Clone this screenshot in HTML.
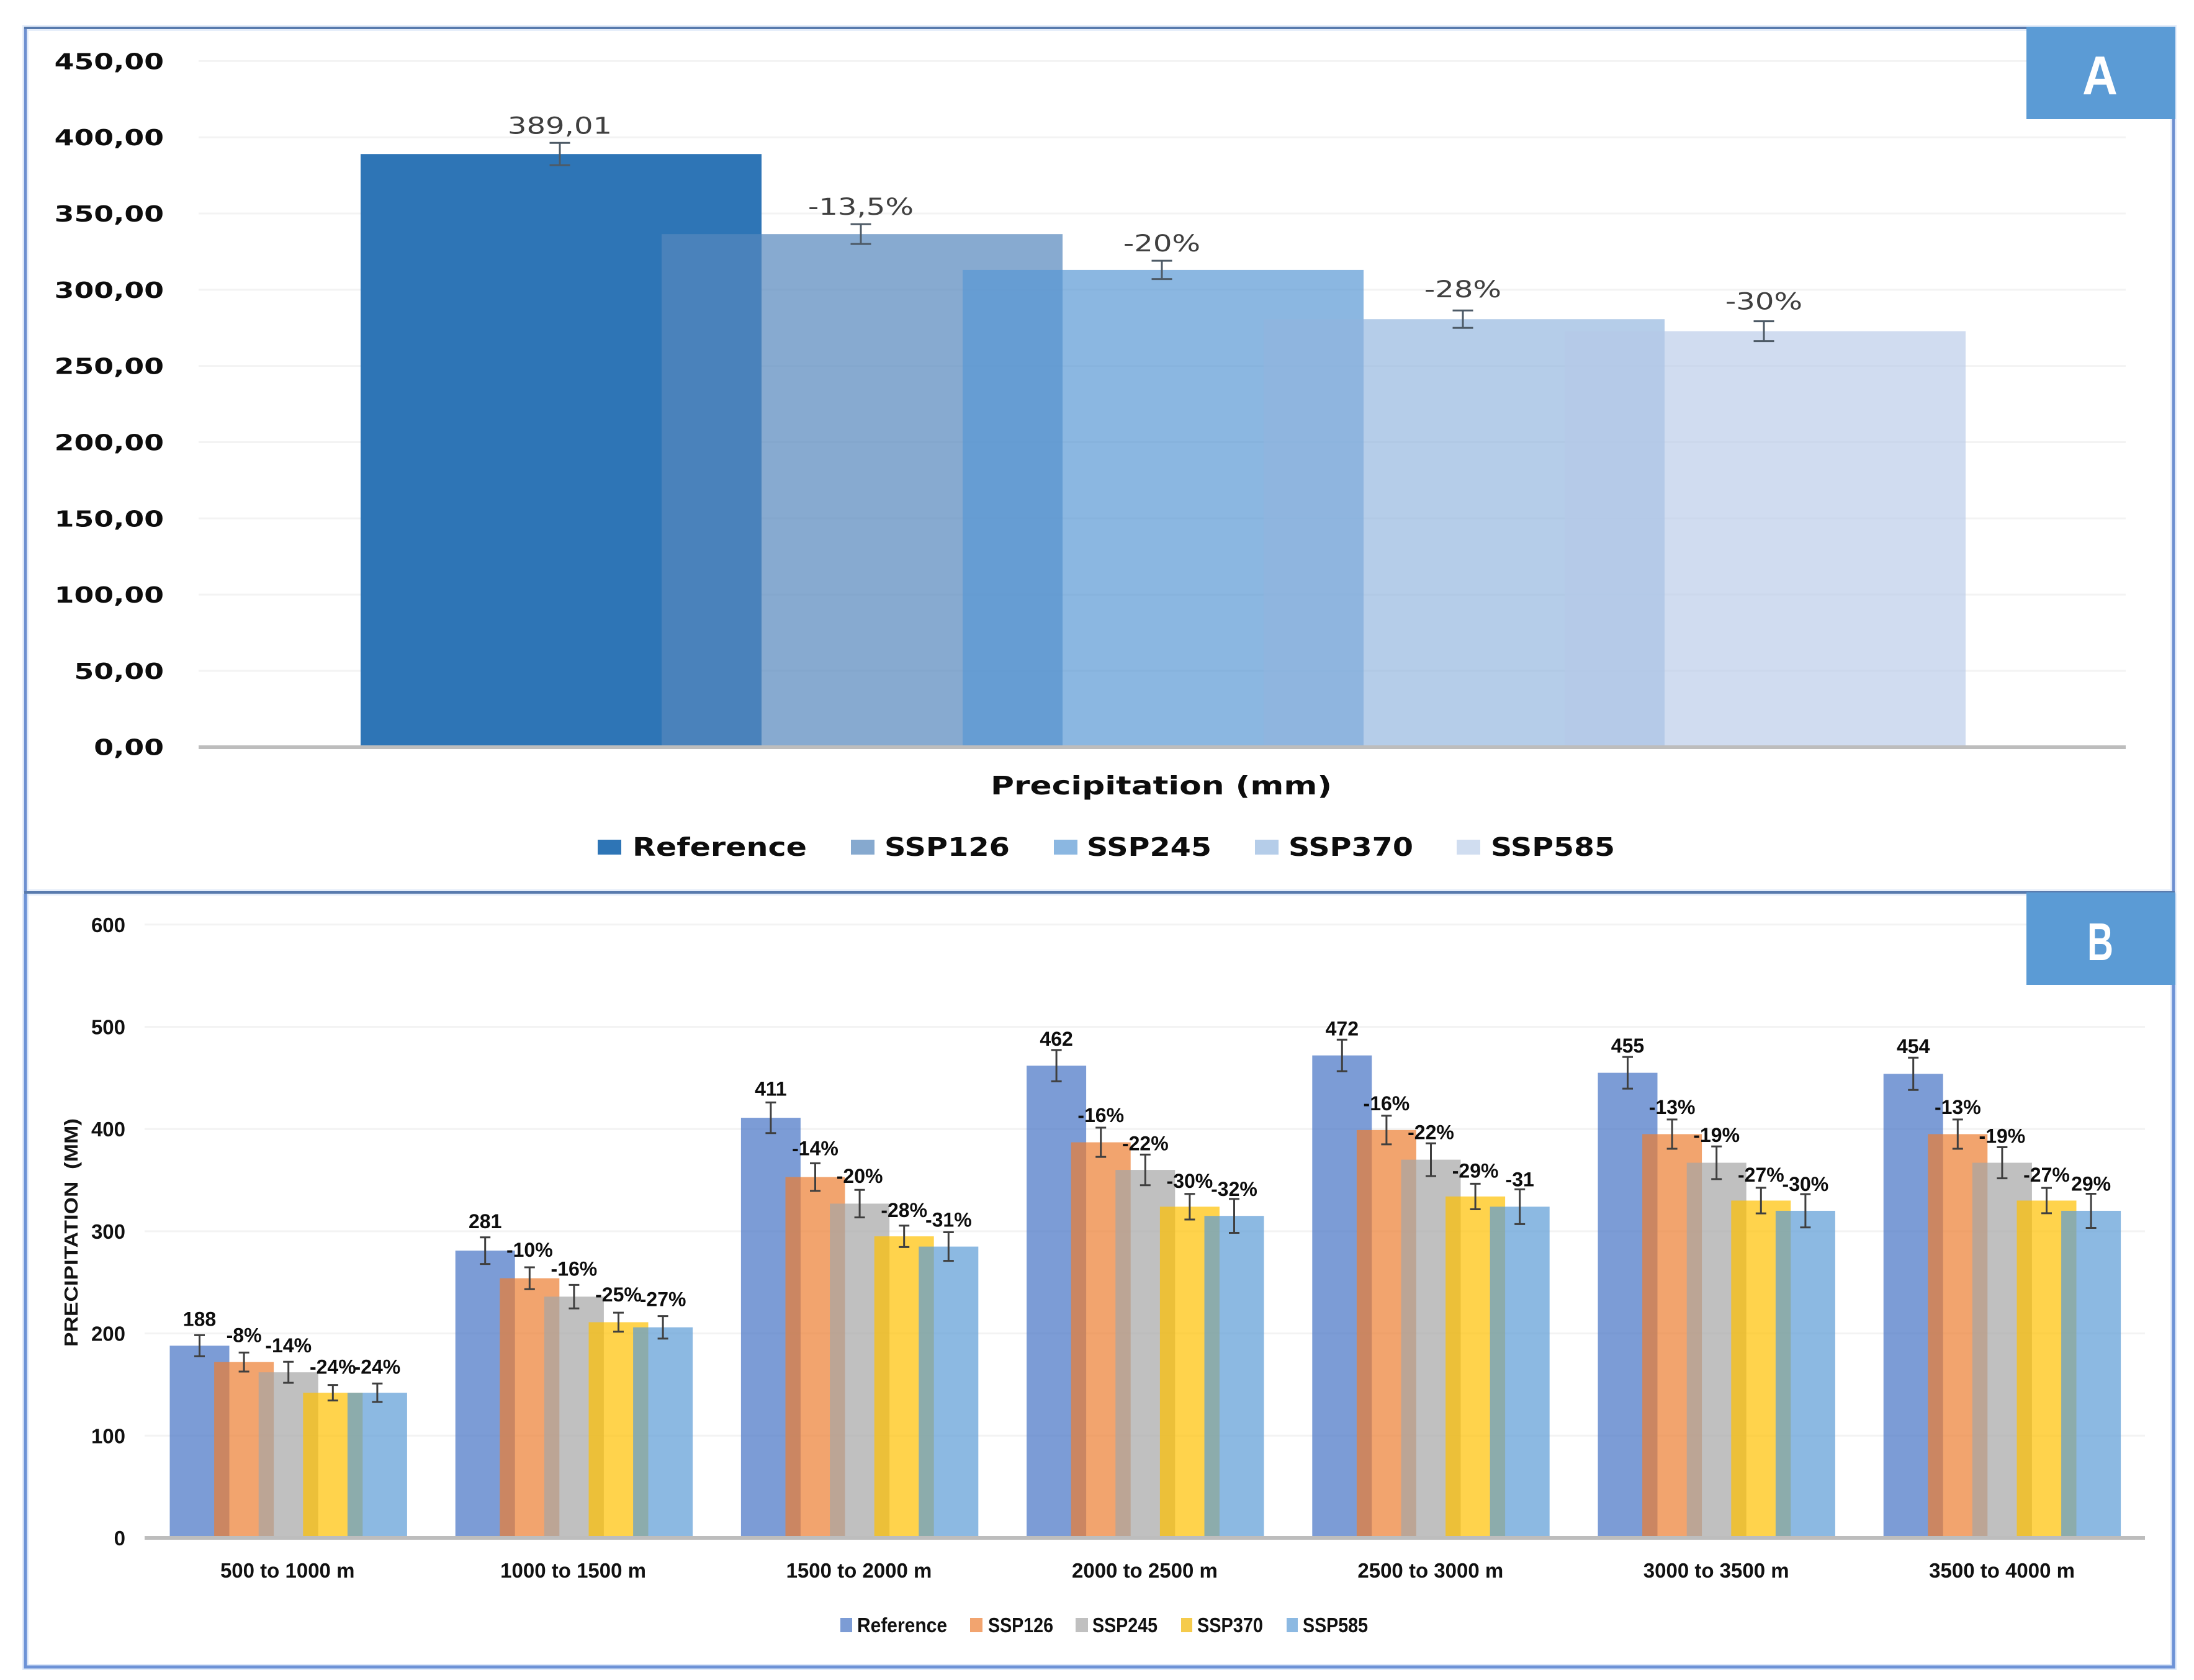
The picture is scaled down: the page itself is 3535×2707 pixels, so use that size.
<!DOCTYPE html>
<html lang="en">
<head>
<meta charset="utf-8">
<title>Precipitation under SSP scenarios</title>
<style>
html,body{margin:0;padding:0;background:#fff;}
svg{display:block;}
.pa{font-family:"DejaVu Sans","Liberation Sans",sans-serif;}
.pb{font-family:"Liberation Sans","DejaVu Sans",sans-serif;font-weight:700;}
</style>
</head>
<body>
<svg id="figure" xmlns="http://www.w3.org/2000/svg" width="3535" height="2707" viewBox="0 0 3535 2707">
  <rect x="0" y="0" width="3535" height="2707" fill="#ffffff"/>
  <g id="panelA">
    <rect x="41" y="45" width="3461" height="1393" fill="none" stroke="#e6eefa" stroke-width="10"/>
    <path d="M41 44 V1438 M3502 44 V1438" fill="none" stroke="#6d8fd0" stroke-width="4.5"/>
    <path d="M39 45 H3504 M39 1438 H3504" fill="none" stroke="#587aad" stroke-width="4"/>
    <g id="gridA"></g>
    <g id="barsA"></g>
    <g id="errorsA"></g>
    <g id="labelsA"></g>
    <g id="ticksA"></g>
    <line x1="320" y1="1204" x2="3425" y2="1204" stroke="#bdbdbd" stroke-width="6"/>
    <text class="pa" x="1596" y="1280" font-size="41" font-weight="700" fill="#0d0d0d" textLength="550" lengthAdjust="spacingAndGlyphs">Precipitation (mm)</text>
    <g>
      <rect x="963" y="1353" width="38" height="24" fill="#2e75b6"/>
      <text class="pa" x="1019" y="1379" font-size="41" font-weight="700" fill="#0d0d0d" textLength="281" lengthAdjust="spacingAndGlyphs">Reference</text>
      <rect x="1371" y="1353" width="38" height="24" fill="#86a9cf"/>
      <text class="pa" x="1425" y="1379" font-size="41" font-weight="700" fill="#0d0d0d" textLength="202" lengthAdjust="spacingAndGlyphs">SSP126</text>
      <rect x="1698" y="1353" width="38" height="24" fill="#8bb7e1"/>
      <text class="pa" x="1751" y="1379" font-size="41" font-weight="700" fill="#0d0d0d" textLength="201" lengthAdjust="spacingAndGlyphs">SSP245</text>
      <rect x="2022" y="1353" width="38" height="24" fill="#b5cde9"/>
      <text class="pa" x="2076" y="1379" font-size="41" font-weight="700" fill="#0d0d0d" textLength="201" lengthAdjust="spacingAndGlyphs">SSP370</text>
      <rect x="2347" y="1353" width="38" height="24" fill="#d0ddf0"/>
      <text class="pa" x="2402" y="1379" font-size="41" font-weight="700" fill="#0d0d0d" textLength="200" lengthAdjust="spacingAndGlyphs">SSP585</text>
    </g>
    <rect x="3265" y="43" width="240" height="149" fill="#5b9bd5"/>
    <text class="pb" x="3355" y="152" font-size="88" fill="#ffffff" textLength="57" lengthAdjust="spacingAndGlyphs">A</text>
  </g>
  <g id="panelB">
    <path d="M41 1440 V2686 H3502 V1440" fill="none" stroke="#dfe9f9" stroke-width="10"/>
    <path d="M41 1440 V2686 H3502 V1440" fill="none" stroke="#6d92d6" stroke-width="5"/>
    <g id="gridB"></g>
    <g id="barsB"></g>
    <g id="errorsB"></g>
    <g id="labelsB"></g>
    <g id="ticksB"></g>
    <line x1="233" y1="2478" x2="3456" y2="2478" stroke="#bdbdbd" stroke-width="6"/>
    <g id="catsB"></g>
    <text class="pb" transform="translate(125,2170) rotate(-90)" font-size="31" fill="#141414" textLength="368" lengthAdjust="spacingAndGlyphs" xml:space="preserve">PRECIPITATION  (MM)</text>
    <g>
      <rect x="1354" y="2607" width="19" height="23" fill="#7c9cd5"/>
      <text class="pb" x="1381" y="2630" font-size="33" fill="#111111" textLength="145" lengthAdjust="spacingAndGlyphs">Reference</text>
      <rect x="1563" y="2607" width="20" height="23" fill="#f2a46f"/>
      <text class="pb" x="1592" y="2630" font-size="33" fill="#111111" textLength="105" lengthAdjust="spacingAndGlyphs">SSP126</text>
      <rect x="1733" y="2607" width="20" height="23" fill="#c0c0c0"/>
      <text class="pb" x="1760" y="2630" font-size="33" fill="#111111" textLength="105" lengthAdjust="spacingAndGlyphs">SSP245</text>
      <rect x="1903" y="2607" width="18" height="23" fill="#f5cb4c"/>
      <text class="pb" x="1929" y="2630" font-size="33" fill="#111111" textLength="106" lengthAdjust="spacingAndGlyphs">SSP370</text>
      <rect x="2073" y="2607" width="18" height="23" fill="#8cb9e2"/>
      <text class="pb" x="2099" y="2630" font-size="33" fill="#111111" textLength="105" lengthAdjust="spacingAndGlyphs">SSP585</text>
    </g>
    <rect x="3265" y="1438" width="240" height="149" fill="#5b9bd5"/>
    <text class="pb" x="3363" y="1547" font-size="85" fill="#ffffff" textLength="42" lengthAdjust="spacingAndGlyphs">B</text>
  </g>
</svg>
<script>
// ---- Panel A data ----
const scenarioNames = ['Reference', 'SSP126', 'SSP245', 'SSP370', 'SSP585'];
const overallMeans = [389.01, 336.5, 313, 280.7, 272.8];
const overallErrors = [7.3, 6.5, 6, 5.7, 6.5];
const overallLabels = ['389,01', '-13,5%', '-20%', '-28%', '-30%'];
const overallTicks = [0, 50, 100, 150, 200, 250, 300, 350, 400, 450];
const overallTickLabels = ['0,00', '50,00', '100,00', '150,00', '200,00', '250,00', '300,00', '350,00', '400,00', '450,00'];

// ---- Panel B data ----
const elevationBands = ['500 to 1000 m', '1000 to 1500 m', '1500 to 2000 m', '2000 to 2500 m', '2500 to 3000 m', '3000 to 3500 m', '3500 to 4000 m'];
const referenceValues = [188, 281, 411, 462, 472, 455, 454];
const ssp126Values = [172, 254, 353, 387, 399, 395, 395];
const ssp245Values = [162, 236, 327, 360, 370, 367, 367];
const ssp370Values = [142, 211, 295, 324, 334, 330, 330];
const ssp585Values = [142, 206, 285, 315, 324, 320, 320];
const referenceErrors = [10.3, 13, 15, 15.3, 15.4, 15.5, 15.8];
const ssp126Errors = [9.3, 10.7, 13.5, 14.3, 14, 14.3, 14.3];
const ssp245Errors = [10.3, 11.5, 13.5, 15, 16, 16, 15.2];
const ssp370Errors = [7.6, 9.3, 10.5, 12.5, 12.5, 12.5, 12.4];
const ssp585Errors = [9, 11, 14, 16.6, 17, 16.3, 16.7];
const referenceLabels = ['188', '281', '411', '462', '472', '455', '454'];
const ssp126Labels = ['-8%', '-10%', '-14%', '-16%', '-16%', '-13%', '-13%'];
const ssp245Labels = ['-14%', '-16%', '-20%', '-22%', '-22%', '-19%', '-19%'];
const ssp370Labels = ['-24%', '-25%', '-28%', '-30%', '-29%', '-27%', '-27%'];
const ssp585Labels = ['-24%', '-27%', '-31%', '-32%', '-31', '-30%', '29%'];
const elevationTicks = [0, 100, 200, 300, 400, 500, 600];

const seriesBValues = [referenceValues, ssp126Values, ssp245Values, ssp370Values, ssp585Values];
const seriesBErrors = [referenceErrors, ssp126Errors, ssp245Errors, ssp370Errors, ssp585Errors];
const seriesBLabels = [referenceLabels, ssp126Labels, ssp245Labels, ssp370Labels, ssp585Labels];

// ---- Styles ----
const colorsA = ['#2e75b6', '#5687bd', '#5797d4', '#91b4de', '#b5c9e7'];
const opacitiesA = [1, 0.71, 0.69, 0.67, 0.64];
const colorsB = ['#4472c4', '#ed7d31', '#a5a5a5', '#ffc000', '#5b9bd5'];

// ---- Axis functions ----
function yA(v) { return 1203.7 - v * 2.4562; }
function xA(i) { return 1874 + (i - 2) * 485; }
function xErrA(i) { return 1872 + (i - 2) * 485; }
const barWidthA = 646;
function labelGapA(i) { return i === 3 ? 21 : (i === 4 ? 19 : 15); }
function yB(v) { return 2478 - v * 1.647; }
function xBand(g) { return 233 + 460.4 * (g + 0.5); }
function xB(g, i) { return 464.7 + 460.2 * g + (i - 2) * 71.6; }
const barWidthB = 96;
function labelGapB(g, i) {
  const base = g < 2 ? 15 : (g === 2 ? 11 : 7);
  if (i === 1) { return base + 2; }
  if (i === 3) { return base + 3; }
  if (i === 4) { return g < 2 ? base + 1 : base - 2; }
  return base;
}

const NS = 'http://www.w3.org/2000/svg';
function make(tag, attrs, parentId, text) {
  const el = document.createElementNS(NS, tag);
  for (const k in attrs) { el.setAttribute(k, attrs[k]); }
  if (text !== undefined) { el.textContent = text; }
  document.getElementById(parentId).appendChild(el);
  return el;
}
function slug(s) { return String(s).toLowerCase().replace(/[^a-z0-9]+/g, '-'); }

function drawErrorBar(parentId, cx, yTop, yBottom, cap, color, width) {
  const d = 'M' + (cx - cap / 2) + ' ' + yTop + 'H' + (cx + cap / 2) +
            'M' + cx + ' ' + yTop + 'V' + yBottom +
            'M' + (cx - cap / 2) + ' ' + yBottom + 'H' + (cx + cap / 2);
  return make('path', { d: d, fill: 'none', stroke: color, 'stroke-width': width }, parentId);
}

// ---- Panel A ----
overallTicks.forEach(function (t, i) {
  const line = make('line', { x1: 320, x2: 3425, y1: yA(t), y2: yA(t), stroke: '#f3f3f3', 'stroke-width': 3 }, 'gridA');
  
  
  const label = make('text', {
    class: 'pa', transform: 'translate(264,' + (yA(t) + 13) + ') scale(1.27,1)',
    'text-anchor': 'end', 'font-size': 36, 'font-weight': 700, fill: '#0d0d0d'
  }, 'ticksA', overallTickLabels[i]);
  
  
});
scenarioNames.forEach(function (name, i) {
  const bar = make('rect', {
    x: xA(i) - barWidthA / 2, y: yA(overallMeans[i]), width: barWidthA,
    height: yA(0) - yA(overallMeans[i]), fill: colorsA[i], 'fill-opacity': opacitiesA[i]
  }, 'barsA');
  
  
  const err = drawErrorBar('errorsA', xErrA(i),
    yA(overallMeans[i] + overallErrors[i]), yA(overallMeans[i] - overallErrors[i]),
    33, '#4d5a66', 3);
  
  
  const lab = make('text', {
    class: 'pa', transform: 'translate(' + xErrA(i) + ',' + (yA(overallMeans[i] + overallErrors[i]) - labelGapA(i)) + ') scale(1.3,1)',
    'text-anchor': 'middle', 'font-size': 37, fill: '#404040'
  }, 'labelsA', overallLabels[i]);
  
  
});

// ---- Panel B ----
elevationTicks.forEach(function (t) {
  const line = make('line', { x1: 233, x2: 3456, y1: yB(t), y2: yB(t), stroke: '#f3f3f3', 'stroke-width': 3 }, 'gridB');
  
  
  const label = make('text', {
    class: 'pb', x: 202, y: yB(t) + 12, 'text-anchor': 'end', 'font-size': 33, fill: '#111111'
  }, 'ticksB', String(t));
  
  
});
elevationBands.forEach(function (band, g) {
  const cat = make('text', {
    class: 'pb', x: xBand(g), y: 2542, 'text-anchor': 'middle', 'font-size': 33, fill: '#111111'
  }, 'catsB', band);
  
  
  scenarioNames.forEach(function (name, i) {
    const v = seriesBValues[i][g];
    const e = seriesBErrors[i][g];
    const bar = make('rect', {
      x: xB(g, i) - barWidthB / 2, y: yB(v), width: barWidthB,
      height: yB(0) - yB(v), fill: colorsB[i], 'fill-opacity': 0.7
    }, 'barsB');
    
    
    const err = drawErrorBar('errorsB', xB(g, i), yB(v + e), yB(v - e), 17, '#3f3f3f', 3);
    
    
    const lab = make('text', {
      class: 'pb', x: xB(g, i), y: yB(v + e) - labelGapB(g, i), 'text-anchor': 'middle', 'font-size': 32, fill: '#0d0d0d'
    }, 'labelsB', seriesBLabels[i][g]);
    
    
  });
});
</script>
</body>
</html>
